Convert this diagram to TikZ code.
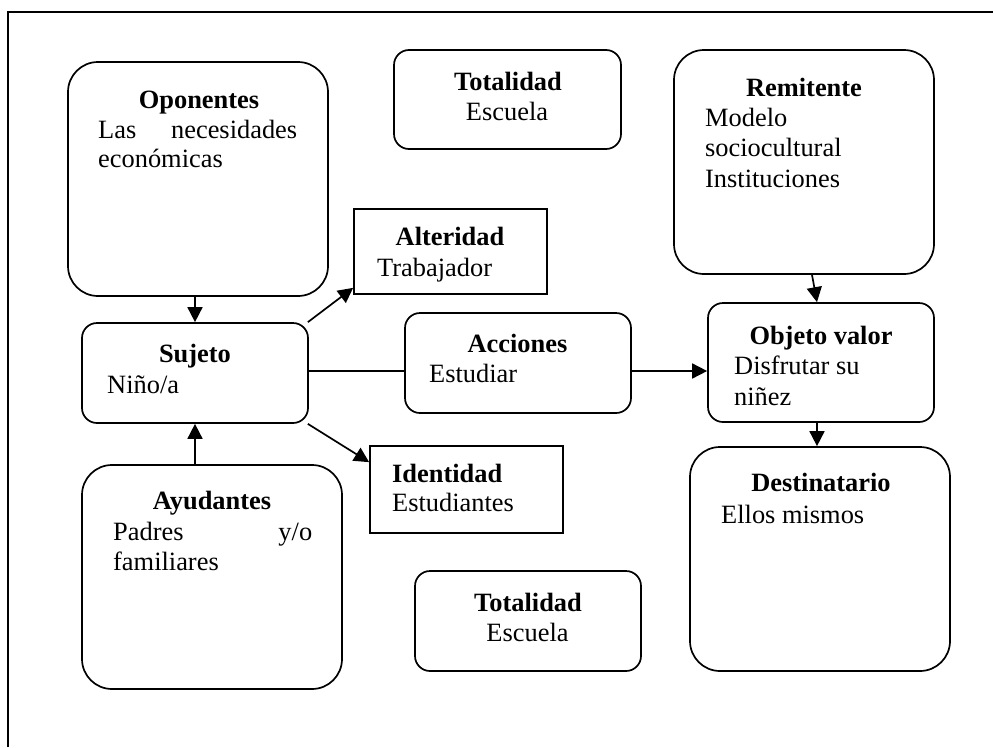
\documentclass[tikz,border=0pt]{standalone}
\usepackage{fontspec}
\setmainfont{Liberation Serif}
\usetikzlibrary{arrows.meta,calc}
\begin{document}
\begin{tikzpicture}[x=1pt,y=-1pt,
  font=\fontsize{26.4}{30}\selectfont,
  every node/.style={inner sep=0pt},
  bigbox/.style={draw,line width=1.7pt,rounded corners=30pt},
  smallbox/.style={draw,line width=1.7pt,rounded corners=15pt},
  sqbox/.style={draw,line width=1.7pt},
  hd/.style={anchor=base,font=\fontsize{26.4}{30}\selectfont\bfseries},
  hdl/.style={anchor=base west,font=\fontsize{26.4}{30}\selectfont\bfseries},
  tx/.style={anchor=base west},
  txc/.style={anchor=base},
  conn/.style={line width=1.7pt},
  arr/.style={line width=1.7pt,-{Triangle[length=15pt,width=15pt]}}]
\useasboundingbox (0,0) rectangle (993,747);

% open frame: top and left rules
\draw[line width=1.2pt] (8,747) -- (8,12) -- (993,12);

% boxes
\node[bigbox,minimum width=260pt,minimum height=234pt] (opo) at (198,179) {};
\node[smallbox,minimum width=226pt,minimum height=100pt] (suj) at (195,373) {};
\node[bigbox,minimum width=260pt,minimum height=224pt] (ayu) at (212,577) {};
\node[sqbox,minimum width=193pt,minimum height=85pt] (alt) at (450.5,251.5) {};
\node[smallbox,minimum width=226pt,minimum height=100pt] (acc) at (518,363) {};
\node[sqbox,minimum width=193pt,minimum height=87pt] (ide) at (466.5,489.5) {};
\node[smallbox,minimum width=227pt,minimum height=99pt] (tota) at (507.5,99.5) {};
\node[smallbox,minimum width=226pt,minimum height=100pt] (totb) at (528,621) {};
\node[bigbox,minimum width=260pt,minimum height=224pt] (rem) at (804,162) {};
\node[smallbox,minimum width=226pt,minimum height=119pt] (obj) at (821,362.5) {};
\node[bigbox,minimum width=260pt,minimum height=224pt] (des) at (820,559) {};

% texts
\node[hd] (opoh) at (199,108) {Oponentes};
\node[tx] (opo1) at (98,138) {\makebox[199pt][s]{Las\hfill necesidades}};
\node[tx] (opo2) at (98,167) {económicas};

\node[hd] (sujh) at (195,362) {Sujeto};
\node[tx] (suj1) at (107,393) {Niño/a};

\node[hd] (ayuh) at (212,509) {Ayudantes};
\node[tx] (ayu1) at (113,540) {\makebox[199pt][s]{Padres\hfill y/o}};
\node[tx] (ayu2) at (113,570) {familiares};

\node[hd] (alth) at (450,245) {Alteridad};
\node[tx] (alt1) at (377,276) {Trabajador};

\node[hd] (acch) at (517.5,352) {Acciones};
\node[tx] (acc1) at (429,382) {Estudiar};

\node[hdl] (ideh) at (392,482) {Identidad};
\node[tx] (ide1) at (392,511) {Estudiantes};

\node[hd] (totah) at (508,90) {Totalidad};
\node[txc] (tota1) at (507,120) {Escuela};

\node[hd] (totbh) at (528,611) {Totalidad};
\node[txc] (totb1) at (527.5,641) {Escuela};

\node[hd] (remh) at (804,96) {Remitente};
\node[tx] (rem1) at (705,126) {Modelo};
\node[tx] (rem2) at (705,156) {sociocultural};
\node[tx] (rem3) at (705,187) {Instituciones};

\node[hd] (objh) at (821,344) {Objeto valor};
\node[tx] (obj1) at (734,374) {Disfrutar su};
\node[tx] (obj2) at (734,405) {niñez};

\node[hd] (desh) at (821,491) {Destinatario};
\node[tx] (des1) at (721,523) {Ellos mismos};

% connectors
\draw[arr] (opo.south -| suj.north) -- (suj.north);
\draw[arr] (ayu.north -| suj.south) -- (suj.south);
\draw[arr] ($(suj.north east)+(-1,0)$) -- ($(alt.south west)+(0,-7)$);
\draw[arr] ($(suj.south east)+(-1,0)$) -- ($(ide.north west)+(0,17)$);
\draw[conn] ($(suj.east)+(0,-2)$) -- ($(acc.west)+(0,8)$);
\draw[arr] ($(acc.east)+(0,8)$) -- ($(obj.west)+(0,8.5)$);
\draw[arr] ($(rem.south)+(8,0)$) -- ($(obj.north)+(-4,0)$);
\draw[arr] ($(obj.south)+(-4,0)$) -- ($(des.north)+(-3,0)$);
\end{tikzpicture}
\end{document}
